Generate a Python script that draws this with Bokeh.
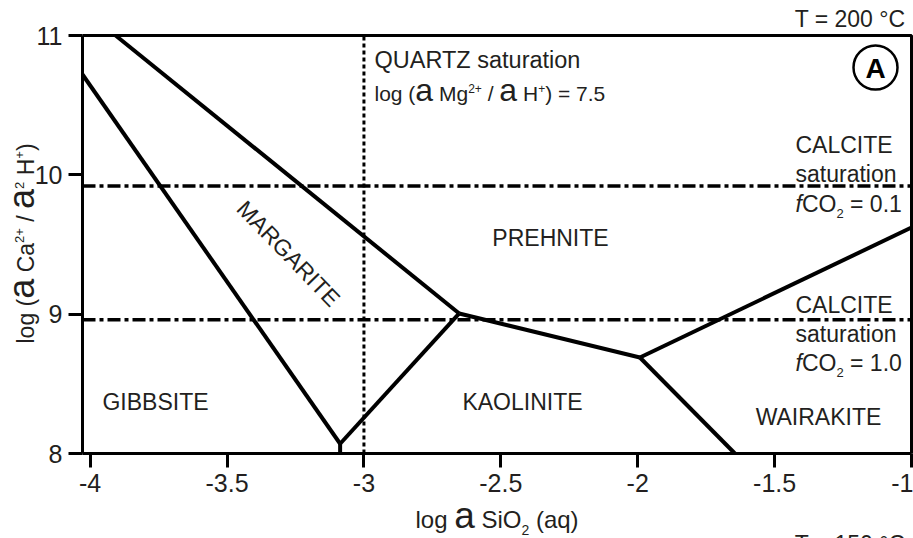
import math
from bokeh.plotting import figure
from bokeh.models import Label, FixedTicker, Range1d
from bokeh.embed import file_html
from bokeh.resources import INLINE

# ---------------- data ----------------
x_ticks = [-4, -3.5, -3, -2.5, -2, -1.5, -1]
x_tick_labels = ["-4", "-3.5", "-3", "-2.5", "-2", "-1.5", "-1"]
y_ticks = [8, 9, 10, 11]
y_tick_labels = ["8", "9", "10", "11"]

# phase boundaries (log a SiO2, log a Ca2+/a2 H+)
gib_mar_x = [-4.028, -3.087]
gib_mar_y = [10.72, 8.07]
gib_kao_x = [-3.087, -3.087]
gib_kao_y = [8.07, 8.0]
mar_kao_x = [-3.087, -2.652]
mar_kao_y = [8.07, 9.005]
mar_pre_x = [-3.907, -2.652]
mar_pre_y = [11.0, 9.005]
pre_kao_x = [-2.652, -1.992]
pre_kao_y = [9.005, 8.689]
kao_wai_x = [-1.992, -1.645]
kao_wai_y = [8.689, 8.0]
pre_wai_x = [-1.992, -1.0]
pre_wai_y = [8.689, 9.622]

quartz_sat_x = -3.0
calcite_01_y = 9.92
calcite_10_y = 8.96

# ---------------- geometry ----------------
XS, XE = -4.028, -1.0      # plotted box in data units
YS, YE = 8.0, 11.0
W, H = 913, 538
L, R, T, B = 82, 911, 35, 453   # where the box sits on the page
SX = (R - L) / (XE - XS)
SY = (B - T) / (YE - YS)

FONT = "Liberation Sans"
TXT = "#231f20"

p = figure(width=W, height=H, output_backend="svg", toolbar_location=None,
           title_location=None,
           x_range=Range1d(XS - L / SX, XE + (W - R) / SX),
           y_range=Range1d(YS - (H - B) / SY, YE + T / SY),
           min_border=0)
p.background_fill_color = "white"
p.border_fill_color = "white"
p.grid.visible = False
p.outline_line_color = None

p.xaxis.fixed_location = YS
p.yaxis.fixed_location = XS
p.xaxis.bounds = (XS, XE)
p.yaxis.bounds = (YS, YE)

for ax in (p.xaxis[0], p.yaxis[0]):
    ax.axis_line_width = 3
    ax.axis_line_color = "black"
    ax.major_tick_line_width = 3
    ax.major_tick_line_color = "black"
    ax.major_tick_out = 14
    ax.major_tick_in = 0
    ax.minor_tick_line_color = None
    ax.major_label_text_font = FONT
    ax.major_label_text_font_size = "25px"
    ax.major_label_text_color = TXT
    ax.major_label_standoff = 6

p.xaxis.ticker = FixedTicker(ticks=x_ticks)
p.xaxis.major_label_overrides = {t: s for t, s in zip(x_ticks, x_tick_labels)}
p.yaxis.ticker = FixedTicker(ticks=y_ticks)
p.yaxis.major_label_overrides = {t: s for t, s in zip(y_ticks, y_tick_labels)}

# box (top and right edges)
p.line([XS, XE, XE], [YE, YE, YS], line_color="black", line_width=3)

# reference lines
p.line([quartz_sat_x, quartz_sat_x], [YS, YE], line_color="black",
       line_width=3, line_dash="4 3")
for yy in (calcite_01_y, calcite_10_y):
    p.line([XS, XE], [yy, yy], line_color="black", line_width=3.5,
           line_dash="13 4 4 4")

boundaries = [(gib_mar_x, gib_mar_y), (gib_kao_x, gib_kao_y), (mar_kao_x, mar_kao_y),
              (mar_pre_x, mar_pre_y), (pre_kao_x, pre_kao_y), (kao_wai_x, kao_wai_y),
              (pre_wai_x, pre_wai_y)]
for bx, by in boundaries:
    p.line(bx, by, line_color="black", line_width=4, line_join="round")

# ---------------- text helpers ----------------
def dx(px):
    return XS + (px - L) / SX

def dy(py):
    return YE - (py - T) / SY

CW = {" ": 278, "(": 333, ")": 333, "/": 278, "=": 584, "+": 584, ".": 278, "°": 400,
      "A": 667, "C": 722, "E": 667, "H": 722, "M": 833, "O": 778, "Q": 778, "R": 722,
      "S": 667, "T": 611, "U": 722, "Z": 611, "a": 556, "g": 556, "i": 222, "l": 222,
      "n": 556, "o": 556, "q": 556, "r": 333, "s": 500, "t": 278, "u": 556, "f": 278}

MID = 0.36  # distance (in em) from alphabetic baseline to Bokeh's "middle"

def tw(s, size):
    return sum(CW.get(c, 556) for c in s) / 1000.0 * size

def label(text, x_px, y_px, size=23, align="left", angle=0.0, style="normal",
          color=TXT, center=False):
    # y_px is the alphabetic baseline unless center=True
    yy = y_px if center else y_px - MID * size
    p.add_layout(Label(x=dx(x_px), y=dy(yy), text=text, text_font=FONT,
                       text_font_size=f"{size}px", text_color=color,
                       text_align=align, text_baseline="middle",
                       angle=angle, text_font_style=style))

def runs(parts, x_px, y_px, vertical=False):
    pos = 0.0
    for text, size, rise, style in parts:
        lead = len(text) - len(text.lstrip(" "))
        pos += tw(" " * lead, size)
        core = text.strip(" ")
        if vertical:
            label(core, x_px - rise - MID * size, y_px - pos, size=size,
                  angle=math.pi / 2, style=style, center=True)
        else:
            label(core, x_px + pos, y_px - rise, size=size, style=style)
        pos += tw(text.lstrip(" "), size)

# ---------------- texts ----------------
label("T = 200 °C", 905, 27, align="right")
label("T = 150 °C", 905, 552, align="right")

p.scatter([dx(875)], [dy(67)], marker="circle", size=44, fill_color=None,
          line_color="black", line_width=2.5)
label("A", 875, 68, size=28, align="center", style="bold", color="black", center=True)

label("QUARTZ saturation", 374, 68, size=23.5)
runs([("log (", 21, 0, "normal"), ("a", 32, 0, "normal"), (" Mg", 21, 0, "normal"),
      ("2+", 12, 9, "normal"), (" / ", 21, 0, "normal"), ("a", 32, 0, "normal"),
      (" H", 21, 0, "normal"), ("+", 12, 9, "normal"), (") = 7.5", 21, 0, "normal")],
     374, 101)

label("CALCITE", 795, 153)
label("saturation", 795, 182)
runs([("f", 23, 0, "italic"), ("CO", 23, 0, "normal"), ("2", 13, -6, "normal"),
      (" = 0.1", 23, 0, "normal")], 795, 212)
label("CALCITE", 795, 313)
label("saturation", 795, 342)
runs([("f", 23, 0, "italic"), ("CO", 23, 0, "normal"), ("2", 13, -6, "normal"),
      (" = 1.0", 23, 0, "normal")], 795, 371)

label("PREHNITE", 550, 237, align="center", center=True)
label("GIBBSITE", 155, 401, align="center", center=True)
label("KAOLINITE", 522, 401, align="center", center=True)
label("WAIRAKITE", 818, 416, align="center", center=True)
label("MARGARITE", 288, 253, align="center", angle=-math.radians(46), center=True)

# axis titles
runs([("log ", 24, 0, "normal"), ("a", 37, 0, "normal"), (" SiO", 24, 0, "normal"),
      ("2", 14, -7, "normal"), (" (aq)", 24, 0, "normal")], 415, 528)
runs([("log (", 23, 0, "normal"), ("a", 36, 0, "normal"), (" Ca", 23, 0, "normal"),
      ("2+", 13, 10, "normal"), (" / ", 23, 0, "normal"), ("a", 36, 0, "normal"),
      ("2", 13, 10, "normal"), (" H", 23, 0, "normal"), ("+", 13, 10, "normal"),
      (")", 23, 0, "normal")], 34, 343, vertical=True)

open("out.html", "w").write(file_html(p, INLINE))
